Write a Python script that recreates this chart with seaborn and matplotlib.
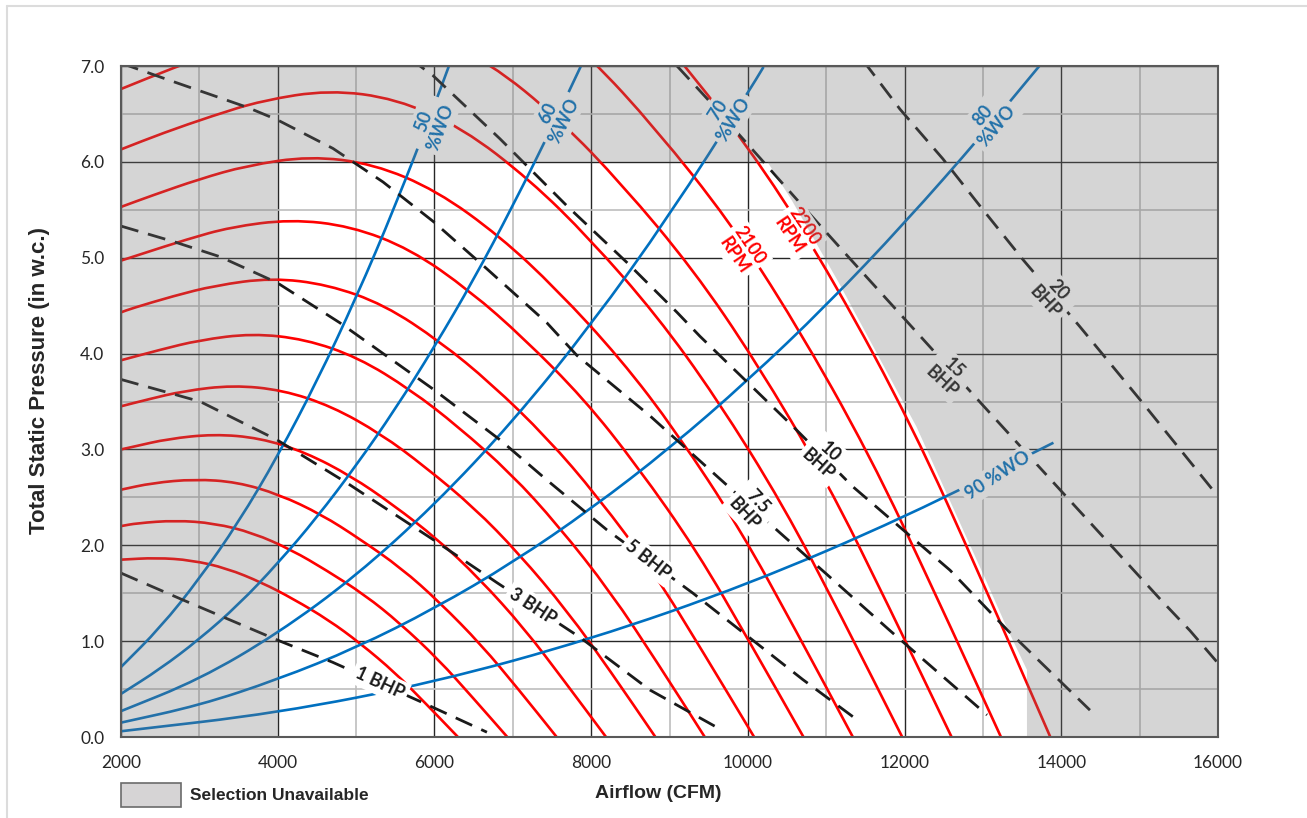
import matplotlib
matplotlib.use("Agg")
import matplotlib.pyplot as plt
import seaborn as sns
from matplotlib.path import Path
from matplotlib.patches import PathPatch, Rectangle
from matplotlib.lines import Line2D

# ---- fan speed curves (airflow CFM / total static pressure in. w.c.) ----
rpm_speeds = [1000, 1100, 1200, 1300, 1400, 1500, 1600, 1700, 1800, 1900, 2000, 2100, 2200]
rpm_cfm = [
    [2000, 2450, 2900, 3350, 3800, 4200, 4650, 5050, 5500, 5900, 6300],
    [2000, 2200, 2695, 3190, 3685, 4180, 4620, 5115, 5555, 6050, 6490, 6930],
    [2000, 2400, 2940, 3480, 4020, 4560, 5040, 5580, 6060, 6600, 7080, 7560],
    [2000, 2167, 2600, 3185, 3770, 4355, 4940, 5460, 6045, 6565, 7150, 7670, 8190],
    [2000, 2334, 2800, 3430, 4060, 4690, 5320, 5880, 6510, 7070, 7700, 8260, 8820],
    [2000, 2500, 3000, 3675, 4350, 5025, 5700, 6300, 6975, 7575, 8250, 8850, 9450],
    [2000, 2133, 2667, 3200, 3920, 4640, 5360, 6080, 6720, 7440, 8080, 8800, 9440, 10080],
    [2000, 2266, 2834, 3400, 4165, 4930, 5695, 6460, 7140, 7905, 8585, 9350, 10030, 10710],
    [2000, 2400, 3000, 3600, 4410, 5220, 6030, 6840, 7560, 8370, 9090, 9900, 10620, 11340],
    [2000, 2533, 3167, 3800, 4655, 5510, 6365, 7220, 7980, 8835, 9595, 10450, 11210, 11970],
    [2000, 2666, 3334, 4000, 4900, 5800, 6700, 7600, 8400, 9300, 10100, 11000, 11800, 12600],
    [7035, 7980, 8820, 9765, 10605, 11550, 12390, 13230],
    [8360, 9240, 10230, 11110, 12100, 12980, 13860],
]
rpm_tsp = [
    [1.85, 1.87, 1.845, 1.76, 1.61, 1.44, 1.22, 0.98, 0.67, 0.34, 0.0],
    [2.20, 2.23, 2.26, 2.23, 2.13, 1.95, 1.74, 1.48, 1.19, 0.81, 0.41, 0.0],
    [2.58, 2.65, 2.69, 2.66, 2.53, 2.32, 2.07, 1.76, 1.41, 0.96, 0.49, 0.0],
    [3.00, 3.03, 3.11, 3.16, 3.12, 2.97, 2.72, 2.43, 2.06, 1.66, 1.13, 0.57, 0.0],
    [3.45, 3.52, 3.61, 3.67, 3.62, 3.45, 3.16, 2.82, 2.39, 1.92, 1.31, 0.67, 0.0],
    [3.93, 4.04, 4.14, 4.21, 4.15, 3.96, 3.62, 3.24, 2.75, 2.21, 1.51, 0.77, 0.0],
    [4.43, 4.47, 4.60, 4.71, 4.79, 4.72, 4.51, 4.12, 3.69, 3.12, 2.51, 1.72, 0.87, 0.0],
    [4.97, 5.04, 5.19, 5.32, 5.40, 5.33, 5.09, 4.65, 4.16, 3.53, 2.83, 1.94, 0.98, 0.0],
    [5.53, 5.65, 5.82, 5.96, 6.06, 5.98, 5.70, 5.22, 4.67, 3.95, 3.18, 2.17, 1.10, 0.0],
    [6.13, 6.30, 6.48, 6.64, 6.75, 6.66, 6.35, 5.81, 5.20, 4.40, 3.54, 2.42, 1.23, 0.0],
    [6.76, 6.98, 7.18, 7.36, 7.48, 7.38, 7.04, 6.44, 5.76, 4.88, 3.92, 2.68, 1.36, 0.0],
    [7.76, 7.10, 6.35, 5.38, 4.32, 2.95, 1.50, 0.0],
    [7.79, 6.97, 5.90, 4.74, 3.24, 1.65, 0.0],
]

# ---- brake horsepower lines ----
bhp_values = ["1", "3", "5", "7.5", "10", "15", "20"]
bhp_cfm = [
    [2000, 2790, 4000, 4700, 5820, 6670],
    [2000, 3008, 3990, 4884, 5982, 6798, 7857, 8751, 9606],
    [2000, 2664, 3264, 3991, 4795, 5982, 6837, 7436, 8202, 9300, 9938, 10700, 11393],
    [2000, 2587, 3608, 3991, 4705, 5344, 5982, 6620, 7436, 7819, 8751, 9606, 10410, 11086, 11814, 13052],
    [5700, 5816, 5982, 6837, 7692, 8457, 9096, 9389, 10576, 11342, 12580, 13307, 14366],
    [9096, 9479, 10155, 10665, 11303, 12235, 13000, 13983, 15260, 15642, 16000],
    [11480, 11533, 11941, 12490, 12962, 13511, 14238, 15004, 16000],
]
bhp_tsp = [
    [1.71, 1.43, 1.01, 0.78, 0.37, 0.05],
    [3.73, 3.50, 3.10, 2.65, 2.06, 1.61, 1.04, 0.49, 0.10],
    [5.33, 5.17, 5.01, 4.74, 4.32, 3.63, 3.10, 2.68, 2.16, 1.50, 1.09, 0.60, 0.18],
    [7.03, 6.86, 6.57, 6.44, 6.14, 5.79, 5.38, 4.92, 4.32, 3.98, 3.35, 2.72, 2.13, 1.64, 1.11, 0.23],
    [7.09, 7.0, 6.90, 6.24, 5.54, 4.95, 4.43, 4.18, 3.24, 2.61, 1.74, 1.12, 0.28],
    [7.0, 6.66, 6.04, 5.57, 4.99, 4.15, 3.46, 2.58, 1.44, 1.11, 0.77],
    [7.05, 6.99, 6.55, 6.03, 5.54, 4.98, 4.28, 3.52, 2.51],
]

# ---- system curves (% wide open) ----
wo_values = ["50", "60", "70", "80", "90"]
wo_cfm = [
    [2000, 2500, 3000, 3500, 4000, 4500, 5000, 5500, 6000, 6185],
    [2000, 2500, 3000, 3500, 4000, 4500, 5000, 5500, 6000, 6500, 7000, 7500, 7870],
    [2000, 3000, 4000, 5000, 6000, 7000, 8000, 9000, 10000, 10200],
    [2000, 3000, 4000, 5000, 6000, 7000, 8000, 9000, 10000, 11000, 12000, 13000, 13720],
    [2000, 4000, 6000, 8000, 10000, 12000, 13900],
]
wo_tsp = [
    [0.73, 1.14, 1.65, 2.24, 2.93, 3.71, 4.58, 5.54, 6.59, 7.0],
    [0.45, 0.71, 1.02, 1.38, 1.81, 2.29, 2.83, 3.42, 4.07, 4.77, 5.54, 6.36, 7.0],
    [0.27, 0.60, 1.08, 1.68, 2.42, 3.29, 4.30, 5.44, 6.72, 6.99],
    [0.15, 0.33, 0.60, 0.93, 1.34, 1.82, 2.38, 3.01, 3.72, 4.50, 5.36, 6.29, 7.0],
    [0.06, 0.25, 0.57, 1.02, 1.59, 2.29, 3.07],
]

# selectable (white) region, everything else is greyed out
open_cfm = [4000, 4000, 10250, 10560, 11160, 12150, 13030, 13300, 13562, 13562]
open_tsp = [0.0, 6.0, 6.0, 5.60, 4.74, 3.24, 1.65, 1.15, 0.70, 0.0]

RED = "#ff0000"
BLUE = "#0070c0"
DASH = "#1a1a1a"


def smooth_curve(ax, xs, ys, color, lw):
    # quadratic spline through the segment midpoints, read points act as controls
    pts = list(zip(xs, ys))
    verts = [pts[0], ((pts[0][0] + pts[1][0]) / 2, (pts[0][1] + pts[1][1]) / 2)]
    codes = [Path.MOVETO, Path.LINETO]
    for i in range(1, len(pts) - 1):
        nxt = ((pts[i][0] + pts[i + 1][0]) / 2, (pts[i][1] + pts[i + 1][1]) / 2)
        verts += [pts[i], nxt]
        codes += [Path.CURVE3, Path.CURVE3]
    verts.append(pts[-1])
    codes.append(Path.LINETO)
    ax.add_patch(PathPatch(Path(verts, codes), fc="none", ec=color, lw=lw,
                           capstyle="butt", zorder=2))


sns.set_style("white")
plt.rcParams["font.family"] = ["Lato", "DejaVu Sans"]

fig = plt.figure(figsize=(13.07, 8.18), dpi=100)
ax = fig.add_axes([121 / 1307, 81 / 818, 1097 / 1307, 671 / 818])

for cfm, tsp in zip(rpm_cfm, rpm_tsp):
    smooth_curve(ax, cfm, tsp, RED, 1.9)
for cfm, tsp in zip(wo_cfm, wo_tsp):
    smooth_curve(ax, cfm, tsp, BLUE, 1.9)
for cfm, tsp in zip(bhp_cfm, bhp_tsp):
    sns.lineplot(x=cfm, y=tsp, ax=ax, color=DASH, lw=2.0, sort=False,
                 estimator=None, linestyle=(0, (6.5, 3.6)), zorder=2.1)

# curve labels (white boxes break the lines like the original)
box = dict(boxstyle="square,pad=0.2", fc="white", ec="none")
labels = [
    ("1 BHP", 5305, 0.56, -25, DASH),
    ("3 BHP", 7258, 1.36, -33, DASH),
    ("5 BHP", 8725, 1.85, -38, DASH),
    ("7.5\nBHP", 10040, 2.39, -47, DASH),
    ("10\nBHP", 10972, 2.91, -42, DASH),
    ("15\nBHP", 12554, 3.78, -43, DASH),
    ("20\nBHP", 13881, 4.60, -47, DASH),
    ("2100\nRPM", 9925, 5.08, -56, RED),
    ("2200\nRPM", 10627, 5.28, -56, RED),
    (wo_values[0] + "\n%WO", 5969, 6.39, 70, BLUE),
    (wo_values[1] + "\n%WO", 7551, 6.47, 64, BLUE),
    (wo_values[2] + "\n%WO", 9721, 6.49, 58, BLUE),
    (wo_values[3] + "\n%WO", 13090, 6.43, 50, BLUE),
    (wo_values[4] + " %WO", 13192, 2.73, 33, BLUE),
]
for txt, x, y, rot, col in labels:
    ax.text(x, y, txt, rotation=rot, rotation_mode="anchor", ha="center",
            va="center", multialignment="center", color=col, fontsize=13,
            fontweight="bold", linespacing=1.05, bbox=box, zorder=3)

# grey "selection unavailable" overlay with a hole for the usable area
outer = [(2000, 0), (16000, 0), (16000, 7), (2000, 7), (2000, 0)]
inner = list(zip(open_cfm, open_tsp)) + [(open_cfm[0], open_tsp[0])]
verts = outer + inner
codes = ([Path.MOVETO] + [Path.LINETO] * 3 + [Path.CLOSEPOLY]
         + [Path.MOVETO] + [Path.LINETO] * (len(inner) - 2) + [Path.CLOSEPOLY])
ax.add_patch(PathPatch(Path(verts, codes), fc="#757575", ec="none",
                       alpha=0.30, zorder=4))

ax.set_xlim(2000, 16000)
ax.set_ylim(0, 7)
ax.set_xticks(range(2000, 16001, 2000))
ax.set_xticks(range(3000, 16000, 2000), minor=True)
ax.set_yticks([i * 1.0 for i in range(8)])
ax.set_yticks([i + 0.5 for i in range(7)], minor=True)
ax.set_yticklabels([f"{i:.1f}" for i in range(8)])
ax.set_xticklabels([str(v) for v in range(2000, 16001, 2000)])
ax.set_axisbelow(True)
ax.grid(which="major", color="#262626", lw=1.0)
ax.grid(which="minor", color="#bdbdbd", lw=1.2)
ax.tick_params(which="both", length=0)
ax.tick_params(axis="x", pad=13, labelsize=12.5)
ax.tick_params(axis="y", pad=12, labelsize=12.5)
for sp in ax.spines.values():
    sp.set_color("#595959")
    sp.set_linewidth(1.5)
    sp.set_zorder(5)

ax.set_xlabel("Airflow (CFM)", fontfamily="Liberation Sans",
              fontweight="bold", fontsize=14)
ax.set_ylabel("Total Static Pressure (in w.c.)", fontfamily="Liberation Sans",
              fontweight="bold", fontsize=16)
ax.xaxis.set_label_coords((658 - 121) / 1097, (737 - 785) / 671)
ax.yaxis.set_label_coords((50 - 121) / 1097, (737 - 380) / 671)

# legend box for the greyed region
fig.add_artist(Rectangle((121 / 1307, 1 - 807 / 818), 60 / 1307, 24 / 818,
                         transform=fig.transFigure, fc="#d6d4d5",
                         ec="#6b6b6b", lw=1.2))
fig.text(190 / 1307, 1 - 796 / 818, "Selection Unavailable", va="center",
         ha="left", fontfamily="Liberation Sans", fontweight="bold",
         fontsize=12.5)

# faint outer frame
fig.add_artist(Line2D([7 / 1307, 7 / 1307], [0, 1 - 6 / 818],
                      transform=fig.transFigure, color="#dcdcdc", lw=1.5))
fig.add_artist(Line2D([7 / 1307, 1], [1 - 6 / 818, 1 - 6 / 818],
                      transform=fig.transFigure, color="#dcdcdc", lw=1.5))

fig.savefig("out.png", dpi=100, facecolor="white")
